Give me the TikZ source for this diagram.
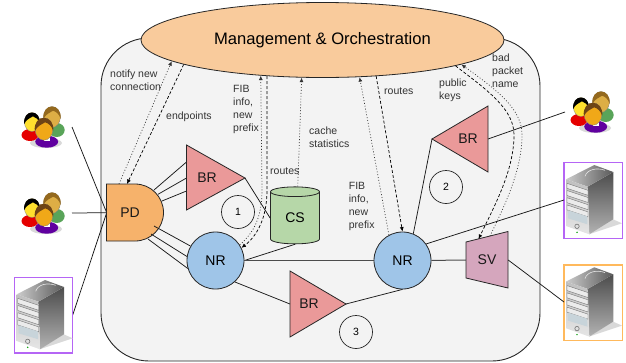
\documentclass[tikz,border=0pt]{standalone}
\usepackage{fontspec}
\setmainfont{Liberation Sans}
\usetikzlibrary{arrows.meta,shapes.geometric}
\definecolor{panelgray}{HTML}{F3F3F3}
\definecolor{mgmtorange}{HTML}{F9CB9C}
\definecolor{pdorange}{HTML}{F6B26B}
\definecolor{brred}{HTML}{EA9999}
\definecolor{csgreen}{HTML}{B6D7A8}
\definecolor{cstop}{HTML}{D9EAD3}
\definecolor{nrblue}{HTML}{9FC5E8}
\definecolor{svpink}{HTML}{D5A6BD}
\definecolor{boxpurple}{HTML}{B565F5}
\definecolor{boxorange}{HTML}{FFB95C}
\definecolor{headleft}{HTML}{FFE02E}
\definecolor{headright}{HTML}{DDAE45}
\definecolor{headfront}{HTML}{F0A818}
\definecolor{hairright}{HTML}{94691E}
\definecolor{hairfront}{HTML}{6E4415}
\def\personicon(#1,#2)#3#4#5{%
	\begin{scope}[shift={(#1,#2)},scale=#3]
		\fill[#4] (0,0) ellipse (8 and 10);
		\draw[black!50, line width=0.3pt] (0,0) ellipse (8 and 10);
		\fill[#5] (-8.2,2) .. controls (-10,-14) and (10,-14) .. (8.2,2) .. controls (7,-3) and (4,-5) .. (1,-6) .. controls (-2,-4) and (-6,-3) .. cycle;
	\end{scope}}
\tikzset{
	mainbox/.style={draw=black!85, line width=0.9pt, fill=panelgray, rounded corners=48pt},
	shapeline/.style={draw=black!85, line width=0.8pt},
	wire/.style={draw=black!90, line width=0.75pt},
	nrnode/.style={shapeline, fill=nrblue, circle, minimum size=57pt, inner sep=0pt, font=\fontsize{14}{14}\selectfont},
	stepcircle/.style={draw=black!85, line width=0.7pt, circle, minimum size=33pt, inner sep=0pt, font=\fontsize{10.5}{10.5}\selectfont},
	shapetext/.style={font=\fontsize{14}{14}\selectfont, text=black!90, inner sep=0pt},
	msgtext/.style={font=\fontsize{10.5}{13}\selectfont, text=black!80, align=left, anchor=north west, inner sep=0pt},
	dashmsg/.style={draw=black, line width=0.7pt, dash pattern=on 3pt off 2pt},
	dotmsg/.style={draw=black!80, line width=0.7pt, dash pattern=on 0.9pt off 2pt},
	tip/.style={-{Latex[length=4.5pt,width=4pt]}},
	people/.pic={
		\fill[black!15] (2,17) ellipse (16 and 5);
		\fill[green!45!black!65] (12.7,4) ellipse (8 and 7);
		\personicon(8,-9){1.05}{headright}{hairright}
		\fill[red!90!black] (-14,9) ellipse (8.5 and 6);
		\personicon(-12,-4){0.95}{headleft}{black}
		\fill[violet!75!blue] (2.7,15.7) ellipse (11.5 and 6);
		\fill[white] (0,9) rectangle (6,15);
		\personicon(0,3){1.12}{headfront}{hairfront}
	},
	servericon/.pic={
		\fill[black!15] (20,19) -- (29,23) -- (-4,34) -- cycle;
		\shade[top color=black!70, bottom color=black!30] (-5.3,-13.7) -- (20.3,-28.3) -- (20.3,19) -- (-3.7,34) -- cycle;
		\shade[left color=black!20, right color=black!65] (-27,-21) -- (1.3,-35.3) -- (20.3,-28.3) -- (-5.3,-13.7) -- cycle;
		\draw[black!10, line width=0.6pt] (-8,-24) .. controls (-6,-31) and (4,-33) .. (12,-30);
		\shade[top color=black!25, bottom color=black!10] (-27,-21) -- (-5.3,-13.7) -- (-3.7,34) -- (-27,25.7) -- cycle;
		\foreach \i in {0,...,3}{
			\draw[black!55, fill=black!8, line width=0.4pt] (-26,{-17+7.2*\i}) -- (-5,{-10+7.2*\i}) -- (-5,{-5+7.2*\i}) -- (-26,{-12+7.2*\i}) -- cycle;
		}
		\fill[cyan!35!black!25] (-25,10) -- (-6,16) -- (-5.5,24) -- (-25,18) -- cycle;
		\draw[black!55, line width=0.6pt] (-16,26) circle (2.2);
		\fill[green!60!black] (-16,32) circle (0.8);
	},
}
\begin{document}
\begin{tikzpicture}[x=1pt, y=-1pt]
		%%%%% START %%%%%
		\useasboundingbox (0, 0) rectangle (626, 362);
		
		\draw[mainbox] (101, 38) rectangle (540, 361);
		\node[shapeline, fill=mgmtorange, ellipse, minimum width=363pt, minimum height=75pt, inner sep=0pt, font=\fontsize{16.6}{16.6}\selectfont] (mgmt) at (322.5, 40) {Management \& Orchestration};
		
		\foreach \name/\px/\py in {pdin/106.7/212.7, pdmsg/119/184, pdack/127/184, pda/154/190, pdb/158/194.3, pdc/162/201, pdd/154/226, pde/151/234, pdf/148/239, bra/186.5/162, brb/186.5/178, brc/186.5/191, brtip/245/178, brbase/488/139, brnrtip/432/139, brlow/290/304, brlowtip/346/304, svack/478.5/239, svmsg/490/236, user1/72/127, user2/72/213, user3/565/112, srv1/72.7/315, srv2/564/200, srv3/564/302}
			\coordinate (\name) at (\px, \py);
		
		\draw[wire] (user1) -- (pdin);
		\draw[wire] (user2) -- (pdin);
		\draw[wire] (srv1) -- (pdin);
		\draw[wire] (pda) -- (bra);
		\draw[wire] (pdb) -- (brb);
		\draw[wire] (pdc) -- (brc);
		
		\node[nrnode] (nr1) at (215.5, 260.5) {NR};
		\node[nrnode] (nr2) at (402.5, 260.5) {NR};
		\draw[shapeline, fill=brred] (186.5, 145) -- (brtip) -- (186.5, 210) -- cycle;
		\node[shapetext] (br1) at (207, 178) {BR};
		\draw[shapeline, fill=brred] (brnrtip) -- (488, 106) -- (488, 172) -- cycle;
		\node[shapetext] (br2) at (468, 139) {BR};
		\draw[shapeline, fill=brred] (290, 271) -- (brlowtip) -- (290, 337) -- cycle;
		\node[shapetext] (br3) at (309, 304) {BR};
		\node[shapeline, fill=csgreen, cylinder, shape border rotate=90, aspect=0.5, cylinder uses custom fill, cylinder body fill=csgreen, cylinder end fill=cstop, minimum width=49pt, minimum height=57pt, inner sep=0pt, font=\fontsize{14}{14}\selectfont] (cs) at (295, 218) {CS};
		
		\draw[shapeline, fill=pdorange] (106.5, 184) -- (135, 184) .. controls (151, 184) and (163.5, 197) .. (163.5, 212.5) .. controls (163.5, 228) and (151, 241) .. (135, 241) -- (106.5, 241) -- cycle;
		\node[shapetext] (pd) at (130, 213) {PD};
		\draw[shapeline, fill=svpink] (466, 242) -- (508, 231.5) -- (508, 288) -- (466, 278) -- cycle;
		\node[shapetext, minimum width=42pt] (sv) at (487, 260) {SV};
		
		\node[stepcircle] (step1) at (238, 212) {1};
		\node[stepcircle] (step2) at (446, 187) {2};
		\node[stepcircle] (step3) at (356, 332) {3};
		
		\pic at (44, 126) {people};
		\pic at (44, 212) {people};
		\pic at (593, 111) {people};
		
		\draw[boxpurple, line width=1.2pt] (14.7, 277.7) rectangle (72.7, 353);
		\pic at (43.7, 315.3) {servericon};
		\draw[boxpurple, line width=1.2pt] (564, 162.3) rectangle (622.3, 238.3);
		\pic at (593, 200.3) {servericon};
		\draw[boxorange, line width=1.2pt] (564, 265) rectangle (622.3, 340.3);
		\pic at (593, 302.6) {servericon};
		
		\draw[wire] (pdd) -- (nr1.150);
		\draw[wire] (pde) -- (nr1.172);
		\draw[wire] (pdf) -- (nr1.196);
		\draw[wire] (brtip) -- (cs.west);
		\draw[wire] (cs.south) -- (nr1.east);
		\draw[wire, line width=1pt, draw=black!70] (nr1) -- (nr2);
		\draw[wire] (nr1.-48) -- (brlow);
		\draw[wire] (brlowtip) -- (nr2.south);
		\draw[wire] (nr2.68) -- (brnrtip);
		\draw[wire] (nr2.35) -- (srv2);
		\draw[wire, line width=1pt, draw=black!70] (nr2) -- (sv);
		\draw[wire] (sv.east) -- (srv3);
		\draw[wire] (brbase) -- (user3);
		
		\draw[dotmsg, tip] (pdmsg) -- (mgmt.188);
		\draw[dashmsg, tip] (mgmt.190) -- (pdack);
		\draw[dotmsg, tip] (nr1.33) .. controls (255, 232) and (262, 215) .. (262, 190) -- (mgmt.210.6);
		\draw[dashmsg, tip] (mgmt.213.2) -- (267, 190) .. controls (267, 218) and (257, 236) .. (nr1.26);
		\draw[dotmsg, tip] (cs.85) -- (mgmt.241.8);
		\draw[dotmsg, tip] (nr2.118) -- (mgmt.315);
		\draw[dashmsg, tip] (mgmt.326.6) -- (nr2.north);
		\draw[dashmsg, tip] (mgmt.349.5) .. controls (490, 92) and (514, 110) .. (514, 135) .. controls (514, 170) and (495, 205) .. (svack);
		\draw[dotmsg, tip] (svmsg) .. controls (505, 205) and (522, 170) .. (522, 135) .. controls (522, 110) and (500, 92) .. (mgmt.350.6);
		
		\node[msgtext] (notifytext) at (110, 70) {notify new\\connection};
		\node[msgtext] (endpointstext) at (166, 112) {endpoints};
		\node[msgtext] (fibtext) at (233, 85) {FIB\\info,\\new\\prefix};
		\node[msgtext] (routestext) at (270, 167.5) {routes};
		\node[msgtext] (cachetext) at (309, 127) {cache\\statistics};
		\node[msgtext] (nrroutestext) at (384, 88) {routes};
		\node[msgtext] (keystext) at (439, 78.5) {public\\keys};
		\node[msgtext] (badtext) at (492, 53.5) {bad\\packet\\name};
		\node[msgtext] (nrfibtext) at (348.7, 182) {FIB\\info,\\new\\prefix};
		
		%%%%% END %%%%%
	\end{tikzpicture}
\end{document}
